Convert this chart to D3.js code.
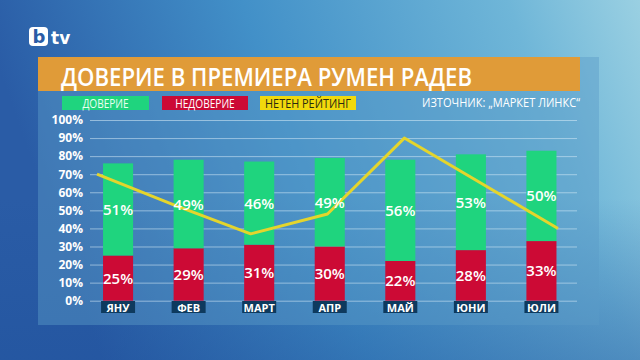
<!DOCTYPE html>
<html>
<head>
<meta charset="utf-8">
<script src="https://cdn.jsdelivr.net/npm/d3@7"></script>
<style>
  body { margin: 0; overflow: hidden; }
  svg { display: block; }
</style>
</head>
<body>
<div id="chart"></div>
<script>
// Data
const months = ["ЯНУ", "ФЕВ", "МАРТ", "АПР", "МАЙ", "ЮНИ", "ЮЛИ"];
const trust = [51, 49, 46, 49, 56, 53, 50];
const distrust = [25, 29, 31, 30, 22, 28, 33];
const netRating = [70, 53, 37, 48, 90, 65, 40];   // plotted on the chart's own % scale
const yTicks = [0, 10, 20, 30, 40, 50, 60, 70, 80, 90, 100];
const legendLabels = ["ДОВЕРИЕ", "НЕДОВЕРИЕ", "НЕТЕН РЕЙТИНГ"];
const title = "ДОВЕРИЕ В ПРЕМИЕРА РУМЕН РАДЕВ";
const source = "ИЗТОЧНИК: „МАРКЕТ ЛИНКС“";

const W = 640, H = 360;
const green = "#1fd47e", red = "#cc0a35", yellow = "#e4d52c", navy = "#0e3a5e";

const svg = d3.select("#chart").append("svg")
    .attr("width", W)
    .attr("height", H);

// Background gradients
const defs = svg.append("defs");
const bg = defs.append("linearGradient").attr("id", "bg")
    .attr("x1", 0).attr("y1", 0.2).attr("x2", 1).attr("y2", 0);
bg.append("stop").attr("offset", 0).attr("stop-color", "#2a5ca6");
bg.append("stop").attr("offset", 0.4).attr("stop-color", "#4290c8");
bg.append("stop").attr("offset", 0.8).attr("stop-color", "#6fb6d8");
bg.append("stop").attr("offset", 1).attr("stop-color", "#9ad0e2");

const shade = defs.append("linearGradient").attr("id", "shade")
    .attr("x1", 0).attr("y1", 0).attr("x2", 0).attr("y2", 1);
shade.append("stop").attr("offset", 0.55).attr("stop-color", "#1d4f9a").attr("stop-opacity", 0);
shade.append("stop").attr("offset", 1).attr("stop-color", "#1d4f9a").attr("stop-opacity", 0.4);

svg.append("rect").attr("width", W).attr("height", H).attr("fill", "url(#bg)");
svg.append("rect").attr("width", W).attr("height", H).attr("fill", "url(#shade)");

// chart panel
svg.append("rect")
    .attr("x", 38).attr("y", 57)
    .attr("width", 561).attr("height", 268)
    .attr("fill", "#5c9cc8")
    .attr("opacity", 0.45);

// bTV logo
const logo = svg.append("g").attr("transform", "translate(29,27)");
logo.append("rect").attr("width", 19).attr("height", 19).attr("rx", 4).attr("fill", "#fff");
logo.append("text").attr("x", 10).attr("y", 16)
    .attr("text-anchor", "middle")
    .style("font", "bold 18px 'DejaVu Sans', sans-serif")
    .attr("fill", "#2a5ca6").text("b");
logo.append("text").attr("x", 22).attr("y", 17)
    .style("font", "bold 17px 'DejaVu Sans', sans-serif")
    .attr("fill", "#fff").text("tv");

// Title bar
svg.append("rect")
    .attr("x", 38).attr("y", 57)
    .attr("width", 542).attr("height", 34)
    .attr("fill", "#e09b38");
svg.append("text")
    .attr("x", 61).attr("y", 86)
    .attr("textLength", 411)
    .attr("lengthAdjust", "spacingAndGlyphs")
    .attr("fill", "#fff")
    .style("font", "600 26px 'Open Sans', sans-serif")
    .text(title);

// Legend
const legendBoxes = [
    { x: 62, w: 87, fill: green, color: "#eafff2" },
    { x: 162, w: 86, fill: red, color: "#fff" },
    { x: 260, w: 96, fill: "#f1d90c", color: "#2a2a10" }
];
legendLabels.forEach((label, i) => {
    const b = legendBoxes[i];
    svg.append("rect")
        .attr("x", b.x).attr("y", 96)
        .attr("width", b.w).attr("height", 14)
        .attr("fill", b.fill);
    svg.append("text")
        .attr("x", b.x + b.w / 2).attr("y", 107.5)
        .attr("text-anchor", "middle")
        .attr("fill", b.color)
        .style("font", "500 12px 'Open Sans', sans-serif")
        .attr("textLength", label.length * 6.6)
        .attr("lengthAdjust", "spacingAndGlyphs")
        .text(label);
});
svg.append("text")
    .attr("x", 580).attr("y", 107)
    .attr("text-anchor", "end")
    .attr("fill", "#fff")
    .style("font", "500 12px 'Open Sans', sans-serif")
    .attr("textLength", 158)
    .attr("lengthAdjust", "spacingAndGlyphs")
    .text(source);

// Scales
const y = d3.scaleLinear().domain([0, 100]).range([300.7, 120]);
const x = d3.scaleBand().domain(months).range([83, 576.5])
    .paddingInner(0.574).paddingOuter(0.284);
const xLine = d3.scalePoint().domain(months).range([97, 558]);

// Y gridlines + labels
const yAxis = svg.append("g")
    .attr("transform", "translate(90,0)")
    .call(d3.axisLeft(y).tickValues(yTicks).tickSize(-487).tickFormat(d => d + "%"));
yAxis.select(".domain").remove();
yAxis.selectAll(".tick line")
    .attr("stroke", "#d8ecf8")
    .attr("stroke-opacity", 0.55)
    .attr("stroke-width", 1);
yAxis.selectAll(".tick text")
    .attr("x", -7)
    .attr("fill", "#fff")
    .style("font", "bold 12px 'Open Sans', sans-serif");

// Stacked bars
const rows = months.map((m, i) => ({ month: m, distrust: distrust[i], trust: trust[i] }));
const stacked = d3.stack().keys(["distrust", "trust"])(rows);
const colors = { distrust: red, trust: green };

stacked.forEach(layer => {
    svg.append("g").selectAll("rect")
        .data(layer)
        .join("rect")
        .attr("x", d => x(d.data.month))
        .attr("y", d => y(d[1]))
        .attr("width", x.bandwidth())
        .attr("height", d => y(d[0]) - y(d[1]))
        .attr("fill", colors[layer.key]);
});

// Month labels
const monthG = svg.append("g").selectAll("g")
    .data(months)
    .join("g")
    .attr("transform", d => `translate(${x(d) + x.bandwidth() / 2},301)`);
monthG.append("rect")
    .attr("x", -17).attr("width", 34).attr("height", 12)
    .attr("fill", navy);
monthG.append("text")
    .attr("y", 10.5)
    .attr("text-anchor", "middle")
    .attr("fill", "#fff")
    .style("font", "bold 11px 'Open Sans', sans-serif")
    .text(d => d);

// Net rating line
svg.append("path")
    .datum(netRating)
    .attr("fill", "none")
    .attr("stroke", yellow)
    .attr("stroke-width", 3)
    .attr("stroke-linejoin", "round")
    .attr("d", d3.line()
        .x((d, i) => xLine(months[i]))
        .y(d => y(d)));

// Value labels
stacked.forEach(layer => {
    svg.append("g").selectAll("text")
        .data(layer)
        .join("text")
        .attr("x", d => x(d.data.month) + x.bandwidth() / 2)
        .attr("y", d => y((d[0] + d[1]) / 2) + 5.5)
        .attr("text-anchor", "middle")
        .attr("fill", "#fff")
        .style("font", "600 15px 'Open Sans', sans-serif")
        .text(d => (d[1] - d[0]) + "%");
});
</script>
</body>
</html>
